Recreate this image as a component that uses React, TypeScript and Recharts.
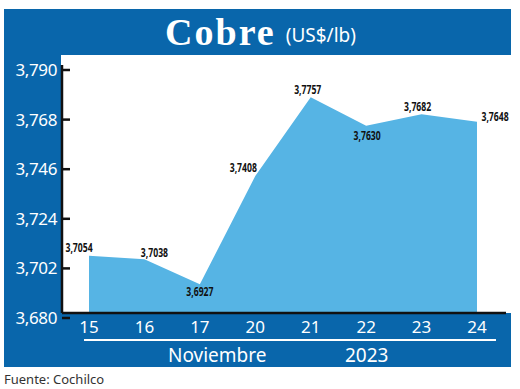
import { AreaChart, Area, XAxis, YAxis, LabelList } from 'recharts'

const DAYS = ['15', '16', '17', '20', '21', '22', '23', '24']
const PRICES = [3.7054, 3.7038, 3.6927, 3.7408, 3.7757, 3.763, 3.7682, 3.7648]
const Y_TICKS = [3.68, 3.702, 3.724, 3.746, 3.768, 3.79]

const PANEL_BLUE = '#0966ab'
const AREA_BLUE = '#56b4e4'
const SANS = "'Noto Sans', 'Open Sans', sans-serif"

// where each value label sits relative to its point (dx, dy of the text centre)
const LABEL_OFFSETS: [number, number][] = [
  [-10, -8],
  [10, -7],
  [0, 7],
  [-12, -8],
  [-3, -7],
  [1, 10],
  [-4, -7],
  [18, -5],
]

const data = DAYS.map((day, i) => ({ day, price: PRICES[i] }))

const fmt = (v: number, digits: number) => v.toFixed(digits).replace('.', ',')

function YTick(props: any) {
  const { x, y, payload } = props
  const ty = y + 5
  return (
    <g>
      <line x1={x + 5} x2={x + 13} y1={ty} y2={ty} stroke="#111" strokeWidth={2.5} />
      <text x={x} y={ty} dy="0.35em" textAnchor="end" fill="#fff" fontSize={17} fontFamily={SANS} letterSpacing={-0.4}>
        {fmt(payload.value, 3)}
      </text>
    </g>
  )
}

function XTick(props: any) {
  const { x, y, payload } = props
  return (
    <text x={x} y={y} dy="0.71em" textAnchor="middle" fill="#fff" fontSize={17} fontFamily={SANS}>
      {payload.value}
    </text>
  )
}

// condensed look: the narrow face is not installed, so squeeze the text horizontally
function ValueLabel(props: any) {
  const { x, y, value, index } = props
  const [dx, dy] = LABEL_OFFSETS[index] ?? [0, -8]
  return (
    <text
      transform={`translate(${x + dx},${y + dy}) scale(0.72,1)`}
      dy="0.35em"
      textAnchor="middle"
      fill="#111"
      fontSize={12}
      fontWeight={700}
      fontFamily={SANS}
    >
      {fmt(value, 4)}
    </text>
  )
}

export default function App() {
  return (
    <div style={{ position: 'absolute', left: 0, top: 0, width: 520, height: 389, background: '#fff', overflow: 'hidden' }}>
      <div style={{ position: 'absolute', left: 4, top: 9, width: 507, height: 358, background: PANEL_BLUE }} />
      <div
        style={{
          position: 'absolute',
          left: 4,
          top: 9,
          width: 507,
          height: 46,
          display: 'flex',
          alignItems: 'center',
          justifyContent: 'center',
          color: '#fff',
          gap: 10,
        }}
      >
        <span style={{ fontFamily: "'Liberation Serif', serif", fontWeight: 700, fontSize: 38, letterSpacing: 2, lineHeight: 1, marginLeft: 6 }}>
          Cobre
        </span>
        <span style={{ fontFamily: SANS, fontSize: 19, lineHeight: 1, marginTop: 6 }}>(US$/lb)</span>
      </div>
      <div style={{ position: 'absolute', left: 61, top: 55, width: 450, height: 258, background: '#fff' }} />
      <div style={{ position: 'absolute', left: 84, top: 339, width: 412, height: 2, background: '#fff' }} />
      <div
        style={{
          position: 'absolute',
          top: 343,
          left: 0,
          width: 520,
          height: 24,
          color: '#fff',
          fontFamily: SANS,
          fontSize: 19,
          lineHeight: '24px',
        }}
      >
        <span style={{ position: 'absolute', left: 168 }}>Noviembre</span>
        <span style={{ position: 'absolute', left: 345 }}>2023</span>
      </div>
      <div
        style={{ position: 'absolute', left: 4, top: 370, fontFamily: SANS, fontSize: 13, color: '#333', lineHeight: '18px' }}
      >
        Fuente: Cochilco
      </div>
      <div style={{ position: 'absolute', left: 0, top: 0 }}>
        <AreaChart width={520} height={389} data={data} margin={{ top: 65, right: 14, bottom: 46, left: 4 }}>
          <YAxis
            type="number"
            domain={[3.68, 3.79]}
            ticks={Y_TICKS}
            width={58}
            tickSize={0}
            tickMargin={5}
            tickLine={false}
            axisLine={{ stroke: '#111', strokeWidth: 2.5 }}
            tick={<YTick />}
          />
          <XAxis
            dataKey="day"
            height={30}
            padding={{ left: 27, right: 29 }}
            tickLine={false}
            tickSize={0}
            tickMargin={8}
            axisLine={{ stroke: '#111', strokeWidth: 2.5 }}
            tick={<XTick />}
            interval={0}
          />
          <Area
            type="linear"
            dataKey="price"
            stroke="none"
            fill={AREA_BLUE}
            fillOpacity={1}
            isAnimationActive={false}
            dot={false}
            activeDot={false}
          >
            <LabelList dataKey="price" content={<ValueLabel />} />
          </Area>
        </AreaChart>
      </div>
    </div>
  )
}
